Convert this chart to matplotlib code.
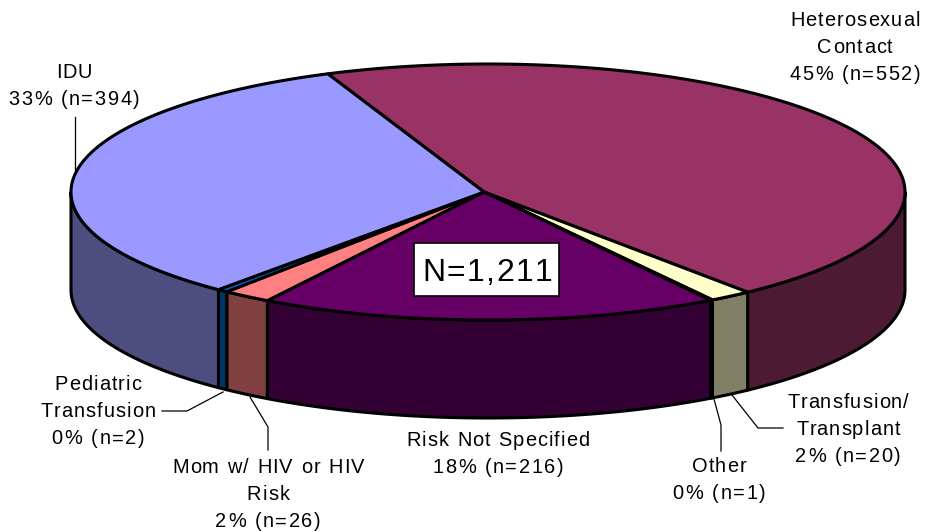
import numpy as np
import matplotlib
matplotlib.use('Agg')
import matplotlib.pyplot as plt
from matplotlib.patches import Polygon, Rectangle
from matplotlib.text import Text
from matplotlib.font_manager import FontProperties

names = ['Heterosexual', 'Transfusion', 'Other', 'Risk Not Specified', 'Mom', 'Pediatric', 'IDU']
# slice sizes, the small ones differ a little from the labels
sizes = [552, 20, 1, 216, 23, 5, 394]
top_colors = ['#993366', '#FFFFCC', '#CCFFFF', '#660066', '#FF8080', '#0066CC', '#9999FF']
side_colors = ['#4D1A33', '#808066', '#668080', '#330033', '#804040', '#003366', '#4D4D80']

labels = ['Heterosexual\nContact\n45% (n=552)', 'Transfusion/\nTransplant\n2% (n=20)',
          'Other\n0% (n=1)', 'Risk Not Specified\n18% (n=216)',
          'Mom w/ HIV or HIV\nRisk\n2% (n=26)', 'Pediatric\nTransfusion\n0% (n=2)',
          'IDU\n33% (n=394)']
label_pos = [(855, 46), (848, 428), (719, 478), (498, 452), (268, 493), (98, 410), (74, 84)]
leaders = [None,
           [(732, 395), (758, 428), (783, 428)],
           [(714, 399), (721, 425), (721, 451)],
           None,
           [(250, 397), (268, 427), (268, 450)],
           [(162, 411), (187, 411), (223, 392)],
           [(75, 117), (75, 170)]]

cx, cy = 488, 192
rx, ry = 417, 128
depth = 98
start = 112.6
font = 'Liberation Sans'


class SpacedText(Text):
    """Text with letter spacing, the reference has wide tracking."""

    def __init__(self, x, y, s, track, line_px, **kw):
        super().__init__(x, y, s, **kw)
        self.track = track
        self.line_px = line_px

    def gap(self, ch):
        # digits and signs sit wider apart than letters in the reference
        return self.track if ch.isalpha() else self.track * 1.55

    def draw(self, renderer):
        prop = self.get_fontproperties()
        gc = renderer.new_gc()
        gc.set_foreground(self.get_color())
        gc.set_antialiased(True)
        x0, y0 = self.get_transform().transform(self.get_unitless_position())
        y0 = renderer.get_canvas_width_height()[1] - y0
        cap = renderer.points_to_pixels(prop.get_size_in_points()) * 0.716

        def wid(s):
            return renderer.get_text_width_height_descent(s, prop, False)[0] if s else 0

        lines = self.get_text().split('\n')
        for n, line in enumerate(lines):
            w = wid(line) + sum(self.gap(c) for c in line[:-1])
            y = y0 + (n - (len(lines) - 1) / 2) * self.line_px + cap / 2
            for i, ch in enumerate(line):
                x = x0 - w / 2 + wid(line[:i]) + sum(self.gap(c) for c in line[:i])
                renderer.draw_text(gc, x, y, ch, prop, 0, False)
        gc.restore()


def rim(a, b):
    t = np.radians(np.linspace(a, b, max(int(abs(b - a) * 3), 2)))
    return cx + rx * np.cos(t), cy - ry * np.sin(t)


fig = plt.figure(figsize=(9.25, 5.31), dpi=100)
ax = fig.add_axes([0, 0, 1, 1])
ax.set_xlim(0, 925)
ax.set_ylim(531, 0)
ax.axis('off')

total = sum(sizes)
angles = start - np.cumsum([0] + sizes) / total * 360

# sides first, only the front half of the rim shows
for i in range(len(sizes)):
    a, b = angles[i], angles[i + 1]
    lo = min(a, -0.0)
    hi = max(b, -180.0)
    if lo <= hi:
        continue
    x, y = rim(lo, hi)
    pts = list(zip(x, y)) + list(zip(x[::-1], y[::-1] + depth))
    ax.add_patch(Polygon(pts, closed=True, fc=side_colors[i], ec='black', lw=2.2, joinstyle='round'))

for i in range(len(sizes)):
    x, y = rim(angles[i], angles[i + 1])
    pts = [(cx - 4, cy)] + list(zip(x, y))
    ax.add_patch(Polygon(pts, closed=True, fc=top_colors[i], ec='black', lw=2.2, joinstyle='round'))

for line in leaders:
    if line:
        ax.plot([p[0] for p in line], [p[1] for p in line], color='black', lw=0.9, solid_joinstyle='miter')

for lab, pos in zip(labels, label_pos):
    ax.add_artist(SpacedText(pos[0], pos[1], lab, 1.1, 27.2, ha='center', va='center',
                             fontproperties=FontProperties(family=font, size=14.4), color='black'))

ax.add_patch(Rectangle((414, 243), 145, 53, fc='white', ec='black', lw=1.2))
ax.add_artist(SpacedText(486, 270, 'N=1,211', 1.0, 30, ha='center', va='center',
                         fontproperties=FontProperties(family=font, size=23), color='black', zorder=5))

fig.savefig('out.png', dpi=100)
